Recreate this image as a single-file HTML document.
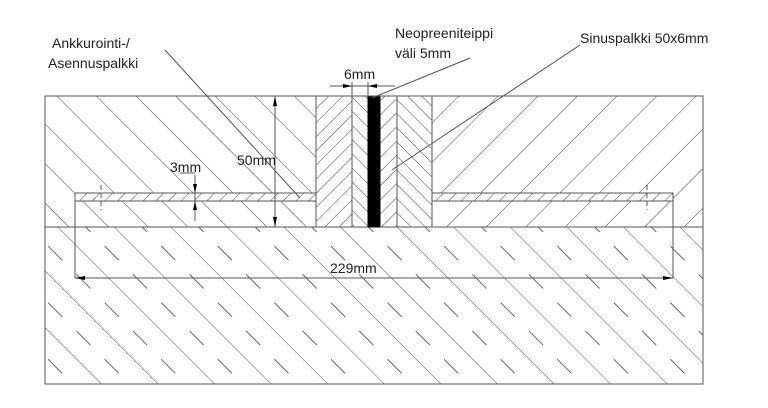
<!DOCTYPE html><html><head><style>body{margin:0;background:#fff}svg{display:block}text{font-family:"Liberation Sans",sans-serif;font-size:14px;fill:#222}</style></head><body>
<svg width="768" height="408" viewBox="0 0 768 408">
<defs>
<pattern id="bs" width="28" height="28" patternUnits="userSpaceOnUse" patternTransform="rotate(-45)"><line x1="0" y1="0" x2="0" y2="28" stroke="#444" stroke-width="1"/></pattern>
<pattern id="fs" width="28" height="28" patternUnits="userSpaceOnUse" patternTransform="rotate(45)"><line x1="0" y1="0" x2="0" y2="28" stroke="#444" stroke-width="1"/></pattern>
<pattern id="bot" width="40" height="40" patternUnits="userSpaceOnUse" patternTransform="rotate(-45)"><line x1="0" y1="0" x2="0" y2="40" stroke="#555"/><line x1="20" y1="8" x2="20" y2="28" stroke="#666"/></pattern>
<pattern id="sm1" width="10" height="10" patternUnits="userSpaceOnUse" patternTransform="rotate(-45)"><line x1="0" y1="0" x2="0" y2="10" stroke="#444"/></pattern>
<pattern id="sm2" width="10" height="10" patternUnits="userSpaceOnUse" patternTransform="rotate(45)"><line x1="0" y1="0" x2="0" y2="10" stroke="#444"/></pattern>
<pattern id="st" width="9" height="9" patternUnits="userSpaceOnUse" patternTransform="rotate(45)"><line x1="0" y1="0" x2="0" y2="9" stroke="#444"/></pattern>
</defs>
<g stroke="#555" fill="none">
<rect x="45" y="227" width="658" height="157" fill="url(#bot)"/>
<rect x="45" y="96" width="271" height="131" fill="url(#bs)"/>
<rect x="432" y="96" width="271" height="131" fill="url(#fs)"/>
<rect x="75" y="193" width="241" height="8" fill="#fff"/>
<rect x="75" y="193" width="241" height="8" fill="url(#st)"/>
<rect x="432" y="193" width="241" height="8" fill="#fff"/>
<rect x="432" y="193" width="241" height="8" fill="url(#st)"/>
<rect x="316" y="96" width="36" height="131" fill="#fff"/>
<rect x="316" y="96" width="36" height="131" fill="url(#sm2)"/>
<rect x="352" y="96" width="16" height="131" fill="#fff"/>
<rect x="352" y="96" width="16" height="131" fill="url(#sm1)"/>
<rect x="380" y="96" width="17" height="131" fill="#fff"/>
<rect x="380" y="96" width="17" height="131" fill="url(#sm2)"/>
<rect x="397" y="96" width="35" height="131" fill="#fff"/>
<rect x="397" y="96" width="35" height="131" fill="url(#sm1)"/>
<rect x="368" y="96" width="12" height="131" fill="#000" stroke="#000"/>
<rect x="45" y="96" width="658" height="288"/>
<line x1="75" y1="201" x2="75" y2="278"/><line x1="673" y1="201" x2="673" y2="278"/>
<line x1="75" y1="278" x2="673" y2="278"/>
<line x1="101" y1="185" x2="101" y2="210" stroke-dasharray="5,3"/>
<line x1="647" y1="185" x2="647" y2="210" stroke-dasharray="5,3"/>
<line x1="275" y1="96" x2="275" y2="227"/>
<line x1="195" y1="175" x2="195" y2="221"/>
<line x1="180" y1="173" x2="195" y2="173"/>
<line x1="352" y1="82" x2="352" y2="96"/><line x1="368" y1="82" x2="368" y2="96"/>
<line x1="330" y1="86" x2="395" y2="86"/>
<line x1="165" y1="50" x2="300" y2="198"/>
<line x1="372" y1="98" x2="470" y2="58"/>
<line x1="392" y1="170" x2="580" y2="45"/>
</g>
<g fill="#000">
<polygon points="75,278 85,276 85,280"/><polygon points="673,278 663,276 663,280"/>
<polygon points="275,96 273,106 277,106"/><polygon points="275,227 273,217 277,217"/>
<polygon points="195,193 193,184 197,184"/><polygon points="195,201 193,210 197,210"/>
<polygon points="352,86 343,84 343,88"/><polygon points="368,86 377,84 377,88"/>
</g>
<text x="52" y="48">Ankkurointi-/</text>
<text x="48" y="68">Asennuspalkki</text>
<text x="395" y="38">Neopreeniteippi</text>
<text x="395" y="58">väli 5mm</text>
<text x="580" y="43">Sinuspalkki 50x6mm</text>
<text x="344" y="79">6mm</text>
<text x="237" y="165">50mm</text>
<text x="170" y="172">3mm</text>
<text x="330" y="273">229mm</text>
</svg></body></html>
